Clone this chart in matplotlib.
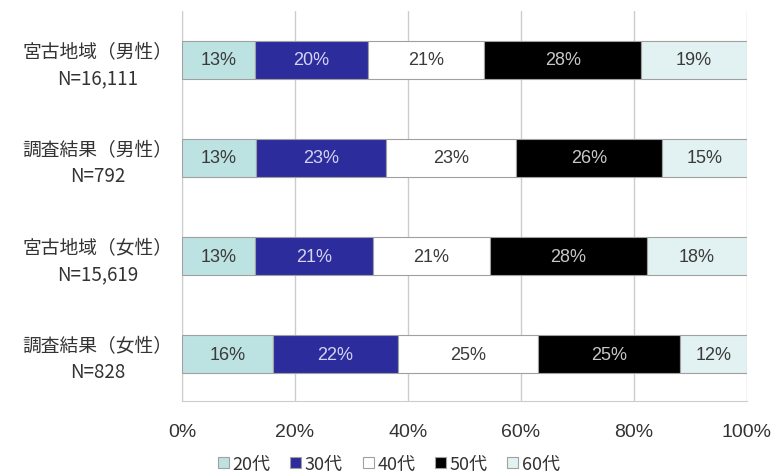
import matplotlib
matplotlib.use("Agg")
import matplotlib.pyplot as plt
import numpy as np

plt.rcParams['font.family'] = ['Noto Sans CJK JP', 'Liberation Sans']

categories = ["宮古地域（男性）\nN=16,111", "調査結果（男性）\nN=792",
              "宮古地域（女性）\nN=15,619", "調査結果（女性）\nN=828"]
series_names = ["20代", "30代", "40代", "50代", "60代"]
v20 = [12.9, 13.1, 12.9, 16.1]
v30 = [20.0, 23.0, 20.9, 22.1]
v40 = [20.6, 23.0, 20.7, 24.8]
v50 = [27.8, 25.9, 27.8, 25.1]
v60 = [18.7, 15.0, 17.7, 11.9]
labels20 = ["13%", "13%", "13%", "16%"]
labels30 = ["20%", "23%", "21%", "22%"]
labels40 = ["21%", "23%", "21%", "25%"]
labels50 = ["28%", "26%", "28%", "25%"]
labels60 = ["19%", "15%", "18%", "12%"]
xticks = [0, 20, 40, 60, 80, 100]
xticklabels = ["0%", "20%", "40%", "60%", "80%", "100%"]

series = [v20, v30, v40, v50, v60]
labels = [labels20, labels30, labels40, labels50, labels60]
colors = ["#bde2e2", "#2c2c9c", "#ffffff", "#000000", "#e2f1f1"]
text_colors = ["#3a3a3a", "#d4d4f4", "#3a3a3a", "#c8c8c8", "#3a3a3a"]

fig = plt.figure(figsize=(7.78, 4.77), dpi=100)
ax = fig.add_axes([0.234, 0.157, 0.726, 0.818])

y = np.arange(len(categories))
left = np.zeros(len(categories))
handles = []
for vals, labs, col, tc, name in zip(series, labels, colors, text_colors, series_names):
    bars = ax.barh(y, vals, left=left, height=0.39, color=col,
                   edgecolor="#a0a0a0", linewidth=0.8, label=name, zorder=3)
    for b, lab in zip(bars, labs):
        ax.text(b.get_x() + b.get_width() / 2, b.get_y() + b.get_height() / 2,
                lab, ha="center", va="center", color=tc, fontsize=13,
                fontfamily='Liberation Sans', zorder=4)
    left += np.array(vals)
    handles.append(bars)

ax.set_xlim(0, 100)
ax.set_ylim(3.48, -0.5)
ax.set_yticks(y)
ax.set_yticklabels(categories, fontsize=13.5, color="#333333", linespacing=1.3,
                   multialignment="center")
ax.set_xticks(xticks)
ax.set_xticklabels(xticklabels, fontsize=14, color="#333333", fontfamily='Liberation Sans')
ax.tick_params(axis="x", length=0, pad=16)
ax.tick_params(axis="y", length=0, pad=7)
ax.grid(axis="x", color="#cccccc", linewidth=1, zorder=0)
for s in ["top", "right"]:
    ax.spines[s].set_visible(False)
ax.spines["left"].set_color("#cccccc")
ax.spines["bottom"].set_color("#cccccc")

leg = fig.legend(handles, series_names, loc="center", bbox_to_anchor=(0.5, 0.025),
                 ncol=5, frameon=False, fontsize=13, handlelength=0.6,
                 handleheight=0.6, handletextpad=0.2, columnspacing=1.1)
for t in leg.get_texts():
    t.set_color("#333333")

fig.savefig("out.png", dpi=100)
